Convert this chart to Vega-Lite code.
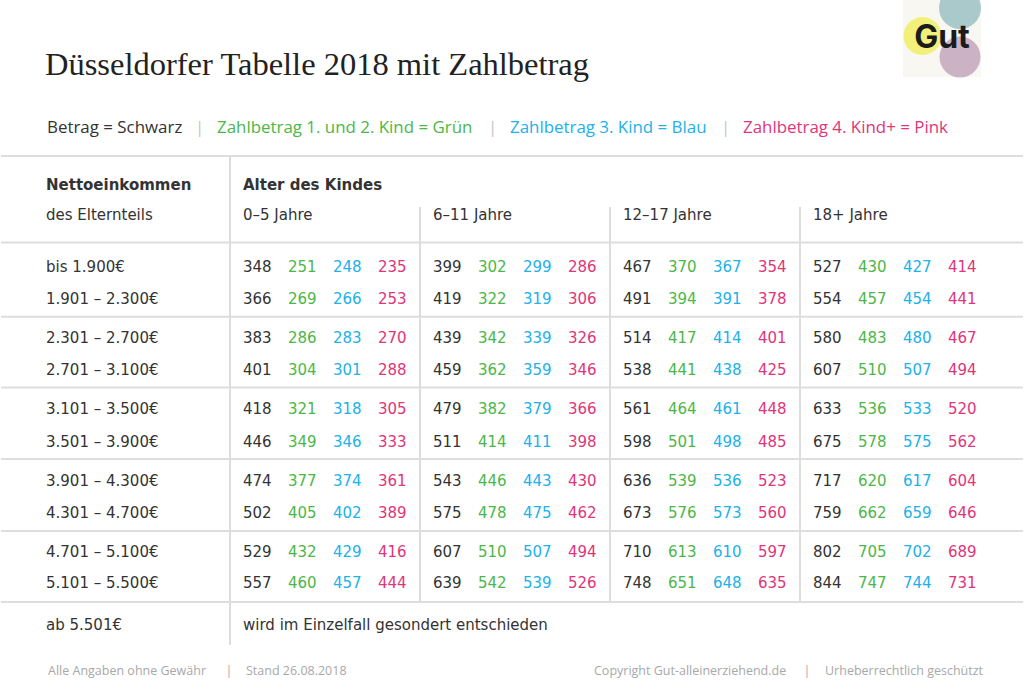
{
  "$schema": "https://vega.github.io/schema/vega-lite/v6.json",
  "width": 1024,
  "height": 699,
  "autosize": {"type": "fit", "contains": "padding"},
  "padding": 0,
  "background": "#ffffff",
  "config": {"view": {"stroke": null}, "axis": {"disable": true}, "legend": {"disable": true}},
  "resolve": {"scale": {"x": "independent", "y": "independent", "color": "independent", "xOffset": "independent", "size": "independent"}},
  "datasets": {
    "marke": [{"marke": "Gut"}],
    "logo": [
      {"teil": "türkis", "spalte": "rechts", "reihe": "oben"},
      {"teil": "malve", "spalte": "rechts", "reihe": "unten"},
      {"teil": "gelb", "spalte": "links", "reihe": "mitte"}
    ],
    "titel": [{"text": "Düsseldorfer Tabelle 2018 mit Zahlbetrag"}],
    "legende": [
      {"nr": 1, "text": "Betrag = Schwarz", "art": "betrag"},
      {"nr": 2, "text": "|", "art": "trenner"},
      {"nr": 3, "text": "Zahlbetrag 1. und 2. Kind = Grün", "art": "kind_1_2"},
      {"nr": 4, "text": "|", "art": "trenner"},
      {"nr": 5, "text": "Zahlbetrag 3. Kind = Blau", "art": "kind_3"},
      {"nr": 6, "text": "|", "art": "trenner"},
      {"nr": 7, "text": "Zahlbetrag 4. Kind+ = Pink", "art": "kind_4"}
    ],
    "fusszeile": [
      {"nr": 1, "text": "Alle Angaben ohne Gewähr"},
      {"nr": 2, "text": "|"},
      {"nr": 3, "text": "Stand 26.08.2018"},
      {"nr": 4, "text": "Copyright Gut-alleinerziehend.de"},
      {"nr": 5, "text": "|"},
      {"nr": 6, "text": "Urheberrechtlich geschützt"}
    ],
    "trennlinien_h": [{"zeile": -2}, {"zeile": 0.5}, {"zeile": 2.5}, {"zeile": 4.5}, {"zeile": 6.5}, {"zeile": 8.5}, {"zeile": 10.5}],
    "trennlinien_v": [
      {"alter": "0–5 Jahre", "von": -2, "bis": 11.5},
      {"alter": "6–11 Jahre", "von": -0.5, "bis": 10.5},
      {"alter": "12–17 Jahre", "von": -0.5, "bis": 10.5},
      {"alter": "18+ Jahre", "von": -0.5, "bis": 10.5}
    ],
    "spalte_links": [
      {"zeile": -1, "text": "Nettoeinkommen", "typ": "Kopf"},
      {"zeile": 0, "text": "des Elternteils", "typ": "Unterkopf"},
      {"zeile": 1, "text": "bis 1.900€", "typ": "Einkommen"},
      {"zeile": 2, "text": "1.901 – 2.300€", "typ": "Einkommen"},
      {"zeile": 3, "text": "2.301 – 2.700€", "typ": "Einkommen"},
      {"zeile": 4, "text": "2.701 – 3.100€", "typ": "Einkommen"},
      {"zeile": 5, "text": "3.101 – 3.500€", "typ": "Einkommen"},
      {"zeile": 6, "text": "3.501 – 3.900€", "typ": "Einkommen"},
      {"zeile": 7, "text": "3.901 – 4.300€", "typ": "Einkommen"},
      {"zeile": 8, "text": "4.301 – 4.700€", "typ": "Einkommen"},
      {"zeile": 9, "text": "4.701 – 5.100€", "typ": "Einkommen"},
      {"zeile": 10, "text": "5.101 – 5.500€", "typ": "Einkommen"},
      {"zeile": 11, "text": "ab 5.501€", "typ": "Einkommen"}
    ],
    "spalte_alter": [
      {"zeile": -1, "alter": "0–5 Jahre", "text": "Alter des Kindes", "typ": "Kopf"},
      {"zeile": 0, "alter": "0–5 Jahre", "text": "0–5 Jahre", "typ": "Unterkopf"},
      {"zeile": 0, "alter": "6–11 Jahre", "text": "6–11 Jahre", "typ": "Unterkopf"},
      {"zeile": 0, "alter": "12–17 Jahre", "text": "12–17 Jahre", "typ": "Unterkopf"},
      {"zeile": 0, "alter": "18+ Jahre", "text": "18+ Jahre", "typ": "Unterkopf"},
      {"zeile": 11, "alter": "0–5 Jahre", "text": "wird im Einzelfall gesondert entschieden", "typ": "Hinweis"}
    ],
    "tabelle": [
      {"gruppe": 1, "einkommen": "bis 1.900€", "alter": "0–5 Jahre", "betrag": 348, "kind_1_2": 251, "kind_3": 248, "kind_4": 235},
      {"gruppe": 1, "einkommen": "bis 1.900€", "alter": "6–11 Jahre", "betrag": 399, "kind_1_2": 302, "kind_3": 299, "kind_4": 286},
      {"gruppe": 1, "einkommen": "bis 1.900€", "alter": "12–17 Jahre", "betrag": 467, "kind_1_2": 370, "kind_3": 367, "kind_4": 354},
      {"gruppe": 1, "einkommen": "bis 1.900€", "alter": "18+ Jahre", "betrag": 527, "kind_1_2": 430, "kind_3": 427, "kind_4": 414},
      {"gruppe": 2, "einkommen": "1.901 – 2.300€", "alter": "0–5 Jahre", "betrag": 366, "kind_1_2": 269, "kind_3": 266, "kind_4": 253},
      {"gruppe": 2, "einkommen": "1.901 – 2.300€", "alter": "6–11 Jahre", "betrag": 419, "kind_1_2": 322, "kind_3": 319, "kind_4": 306},
      {"gruppe": 2, "einkommen": "1.901 – 2.300€", "alter": "12–17 Jahre", "betrag": 491, "kind_1_2": 394, "kind_3": 391, "kind_4": 378},
      {"gruppe": 2, "einkommen": "1.901 – 2.300€", "alter": "18+ Jahre", "betrag": 554, "kind_1_2": 457, "kind_3": 454, "kind_4": 441},
      {"gruppe": 3, "einkommen": "2.301 – 2.700€", "alter": "0–5 Jahre", "betrag": 383, "kind_1_2": 286, "kind_3": 283, "kind_4": 270},
      {"gruppe": 3, "einkommen": "2.301 – 2.700€", "alter": "6–11 Jahre", "betrag": 439, "kind_1_2": 342, "kind_3": 339, "kind_4": 326},
      {"gruppe": 3, "einkommen": "2.301 – 2.700€", "alter": "12–17 Jahre", "betrag": 514, "kind_1_2": 417, "kind_3": 414, "kind_4": 401},
      {"gruppe": 3, "einkommen": "2.301 – 2.700€", "alter": "18+ Jahre", "betrag": 580, "kind_1_2": 483, "kind_3": 480, "kind_4": 467},
      {"gruppe": 4, "einkommen": "2.701 – 3.100€", "alter": "0–5 Jahre", "betrag": 401, "kind_1_2": 304, "kind_3": 301, "kind_4": 288},
      {"gruppe": 4, "einkommen": "2.701 – 3.100€", "alter": "6–11 Jahre", "betrag": 459, "kind_1_2": 362, "kind_3": 359, "kind_4": 346},
      {"gruppe": 4, "einkommen": "2.701 – 3.100€", "alter": "12–17 Jahre", "betrag": 538, "kind_1_2": 441, "kind_3": 438, "kind_4": 425},
      {"gruppe": 4, "einkommen": "2.701 – 3.100€", "alter": "18+ Jahre", "betrag": 607, "kind_1_2": 510, "kind_3": 507, "kind_4": 494},
      {"gruppe": 5, "einkommen": "3.101 – 3.500€", "alter": "0–5 Jahre", "betrag": 418, "kind_1_2": 321, "kind_3": 318, "kind_4": 305},
      {"gruppe": 5, "einkommen": "3.101 – 3.500€", "alter": "6–11 Jahre", "betrag": 479, "kind_1_2": 382, "kind_3": 379, "kind_4": 366},
      {"gruppe": 5, "einkommen": "3.101 – 3.500€", "alter": "12–17 Jahre", "betrag": 561, "kind_1_2": 464, "kind_3": 461, "kind_4": 448},
      {"gruppe": 5, "einkommen": "3.101 – 3.500€", "alter": "18+ Jahre", "betrag": 633, "kind_1_2": 536, "kind_3": 533, "kind_4": 520},
      {"gruppe": 6, "einkommen": "3.501 – 3.900€", "alter": "0–5 Jahre", "betrag": 446, "kind_1_2": 349, "kind_3": 346, "kind_4": 333},
      {"gruppe": 6, "einkommen": "3.501 – 3.900€", "alter": "6–11 Jahre", "betrag": 511, "kind_1_2": 414, "kind_3": 411, "kind_4": 398},
      {"gruppe": 6, "einkommen": "3.501 – 3.900€", "alter": "12–17 Jahre", "betrag": 598, "kind_1_2": 501, "kind_3": 498, "kind_4": 485},
      {"gruppe": 6, "einkommen": "3.501 – 3.900€", "alter": "18+ Jahre", "betrag": 675, "kind_1_2": 578, "kind_3": 575, "kind_4": 562},
      {"gruppe": 7, "einkommen": "3.901 – 4.300€", "alter": "0–5 Jahre", "betrag": 474, "kind_1_2": 377, "kind_3": 374, "kind_4": 361},
      {"gruppe": 7, "einkommen": "3.901 – 4.300€", "alter": "6–11 Jahre", "betrag": 543, "kind_1_2": 446, "kind_3": 443, "kind_4": 430},
      {"gruppe": 7, "einkommen": "3.901 – 4.300€", "alter": "12–17 Jahre", "betrag": 636, "kind_1_2": 539, "kind_3": 536, "kind_4": 523},
      {"gruppe": 7, "einkommen": "3.901 – 4.300€", "alter": "18+ Jahre", "betrag": 717, "kind_1_2": 620, "kind_3": 617, "kind_4": 604},
      {"gruppe": 8, "einkommen": "4.301 – 4.700€", "alter": "0–5 Jahre", "betrag": 502, "kind_1_2": 405, "kind_3": 402, "kind_4": 389},
      {"gruppe": 8, "einkommen": "4.301 – 4.700€", "alter": "6–11 Jahre", "betrag": 575, "kind_1_2": 478, "kind_3": 475, "kind_4": 462},
      {"gruppe": 8, "einkommen": "4.301 – 4.700€", "alter": "12–17 Jahre", "betrag": 673, "kind_1_2": 576, "kind_3": 573, "kind_4": 560},
      {"gruppe": 8, "einkommen": "4.301 – 4.700€", "alter": "18+ Jahre", "betrag": 759, "kind_1_2": 662, "kind_3": 659, "kind_4": 646},
      {"gruppe": 9, "einkommen": "4.701 – 5.100€", "alter": "0–5 Jahre", "betrag": 529, "kind_1_2": 432, "kind_3": 429, "kind_4": 416},
      {"gruppe": 9, "einkommen": "4.701 – 5.100€", "alter": "6–11 Jahre", "betrag": 607, "kind_1_2": 510, "kind_3": 507, "kind_4": 494},
      {"gruppe": 9, "einkommen": "4.701 – 5.100€", "alter": "12–17 Jahre", "betrag": 710, "kind_1_2": 613, "kind_3": 610, "kind_4": 597},
      {"gruppe": 9, "einkommen": "4.701 – 5.100€", "alter": "18+ Jahre", "betrag": 802, "kind_1_2": 705, "kind_3": 702, "kind_4": 689},
      {"gruppe": 10, "einkommen": "5.101 – 5.500€", "alter": "0–5 Jahre", "betrag": 557, "kind_1_2": 460, "kind_3": 457, "kind_4": 444},
      {"gruppe": 10, "einkommen": "5.101 – 5.500€", "alter": "6–11 Jahre", "betrag": 639, "kind_1_2": 542, "kind_3": 539, "kind_4": 526},
      {"gruppe": 10, "einkommen": "5.101 – 5.500€", "alter": "12–17 Jahre", "betrag": 748, "kind_1_2": 651, "kind_3": 648, "kind_4": 635},
      {"gruppe": 10, "einkommen": "5.101 – 5.500€", "alter": "18+ Jahre", "betrag": 844, "kind_1_2": 747, "kind_3": 744, "kind_4": 731}
    ]
  },
  "layer": [
    {
      "data": {"name": "marke"},
      "mark": {"type": "rect", "color": "#f8f7f2"},
      "encoding": {
        "x": {"field": "marke", "type": "nominal", "scale": {"type": "band", "domain": ["Gut"], "range": [902, 980], "paddingInner": 0, "paddingOuter": 0}},
        "y": {"field": "marke", "type": "nominal", "scale": {"type": "band", "domain": ["Gut"], "range": [0, 77], "paddingInner": 0, "paddingOuter": 0}}
      }
    },
    {
      "data": {"name": "logo"},
      "transform": [{"filter": "datum.spalte === 'rechts'"}],
      "mark": {"type": "point", "shape": "circle", "filled": true, "opacity": 1, "strokeWidth": 0, "clip": true},
      "encoding": {
        "x": {"field": "spalte", "type": "nominal", "scale": {"type": "point", "domain": ["rechts"], "range": [959, 959]}},
        "y": {"field": "reihe", "type": "nominal", "scale": {"type": "point", "domain": ["oben", "unten"], "range": [8, 57], "padding": 0}},
        "color": {"field": "teil", "type": "nominal", "scale": {"domain": ["türkis", "malve"], "range": ["#a9c9cb", "#cbb2c5"]}},
        "size": {"field": "teil", "type": "ordinal", "scale": {"domain": ["türkis", "malve"], "range": [1764, 1681]}}
      }
    },
    {
      "data": {"name": "logo"},
      "transform": [{"filter": "datum.spalte === 'links'"}],
      "mark": {"type": "point", "shape": "circle", "filled": true, "opacity": 1, "strokeWidth": 0, "color": "#f2f07b", "size": 1444},
      "encoding": {
        "x": {"field": "spalte", "type": "nominal", "scale": {"type": "point", "domain": ["links"], "range": [921.5, 921.5]}},
        "y": {"field": "reihe", "type": "nominal", "scale": {"type": "point", "domain": ["mitte"], "range": [36, 36]}}
      }
    },
    {
      "data": {"name": "marke"},
      "mark": {"type": "text", "font": "Inter", "fontWeight": "bold", "fontSize": 32, "align": "center", "baseline": "alphabetic", "color": "#1b1b1b"},
      "encoding": {
        "text": {"field": "marke"},
        "x": {"field": "marke", "type": "nominal", "scale": {"type": "point", "domain": ["Gut"], "range": [941, 941]}},
        "y": {"field": "marke", "type": "nominal", "scale": {"type": "point", "domain": ["Gut"], "range": [48, 48]}}
      }
    },
    {
      "data": {"name": "titel"},
      "mark": {"type": "text", "font": "Liberation Serif", "fontSize": 32.5, "align": "left", "baseline": "alphabetic", "color": "#222222"},
      "encoding": {
        "text": {"field": "text"},
        "x": {"field": "text", "type": "nominal", "scale": {"type": "point", "range": [44, 44]}},
        "y": {"field": "text", "type": "nominal", "scale": {"type": "point", "range": [75, 75]}}
      }
    },
    {
      "data": {"name": "legende"},
      "mark": {"type": "text", "font": "Open Sans", "fontSize": 16.9, "align": "left", "baseline": "alphabetic"},
      "encoding": {
        "text": {"field": "text"},
        "x": {"field": "nr", "type": "quantitative", "scale": {"domain": [1, 2, 3, 4, 5, 6, 7], "range": [46, 194, 216, 487, 509, 720, 742], "nice": false, "zero": false}},
        "y": {"datum": "Legende", "type": "nominal", "scale": {"type": "point", "domain": ["Legende"], "range": [132.5, 132.5]}},
        "color": {"field": "art", "type": "nominal", "scale": {"domain": ["betrag", "kind_1_2", "kind_3", "kind_4", "trenner"], "range": ["#333333", "#4cb748", "#21b1eb", "#e0357a", "#c4c4c4"]}}
      }
    },
    {
      "data": {"name": "fusszeile"},
      "mark": {"type": "text", "font": "Open Sans", "fontSize": 12.5, "align": "left", "baseline": "alphabetic", "color": "#a8a8a8"},
      "encoding": {
        "text": {"field": "text"},
        "x": {"field": "nr", "type": "quantitative", "scale": {"domain": [1, 2, 3, 4, 5, 6], "range": [47, 224.5, 245, 593, 802.5, 824], "nice": false, "zero": false}},
        "y": {"datum": "Fußzeile", "type": "nominal", "scale": {"type": "point", "domain": ["Fußzeile"], "range": [674.5, 674.5]}}
      }
    },
    {
      "data": {"name": "trennlinien_h"},
      "mark": {"type": "rule", "color": "#dddddd", "strokeWidth": 2},
      "encoding": {
        "y": {"field": "zeile", "type": "quantitative", "scale": {"domain": [-2, -1, -0.5, 0, 0.5, 1, 2, 2.5, 3, 4, 4.5, 5, 6, 6.5, 7, 8, 8.5, 9, 10, 10.5, 11, 11.5], "range": [156, 190, 207, 219.5, 242.5, 271.7, 304, 316.7, 342.7, 375, 387.5, 414.3, 446.5, 459, 485.5, 517.8, 531, 557.3, 588.3, 602, 629.5, 645], "nice": false, "zero": false}}
      }
    },
    {
      "data": {"name": "trennlinien_v"},
      "mark": {"type": "rule", "color": "#dddddd", "strokeWidth": 2},
      "encoding": {
        "x": {"field": "alter", "type": "nominal", "bandPosition": 0, "scale": {"type": "band", "domain": ["0–5 Jahre", "6–11 Jahre", "12–17 Jahre", "18+ Jahre"], "range": [229, 989], "paddingInner": 0, "paddingOuter": 0}},
        "y": {"field": "von", "type": "quantitative", "scale": {"domain": [-2, -1, -0.5, 0, 0.5, 1, 2, 2.5, 3, 4, 4.5, 5, 6, 6.5, 7, 8, 8.5, 9, 10, 10.5, 11, 11.5], "range": [156, 190, 207, 219.5, 242.5, 271.7, 304, 316.7, 342.7, 375, 387.5, 414.3, 446.5, 459, 485.5, 517.8, 531, 557.3, 588.3, 602, 629.5, 645], "nice": false, "zero": false}},
        "y2": {"field": "bis"}
      }
    },
    {
      "data": {"name": "spalte_links"},
      "transform": [{"filter": "datum.typ === 'Kopf'"}],
      "mark": {"type": "text", "font": "DejaVu Sans", "fontWeight": "bold", "fontSize": 15, "align": "left", "baseline": "alphabetic", "color": "#333333"},
      "encoding": {
        "text": {"field": "text"},
        "x": {"datum": "Nettoeinkommen", "type": "nominal", "scale": {"type": "point", "domain": ["Nettoeinkommen"], "range": [45, 45]}},
        "y": {"field": "zeile", "type": "quantitative", "scale": {"domain": [-2, -1, -0.5, 0, 0.5, 1, 2, 2.5, 3, 4, 4.5, 5, 6, 6.5, 7, 8, 8.5, 9, 10, 10.5, 11, 11.5], "range": [156, 190, 207, 219.5, 242.5, 271.7, 304, 316.7, 342.7, 375, 387.5, 414.3, 446.5, 459, 485.5, 517.8, 531, 557.3, 588.3, 602, 629.5, 645], "nice": false, "zero": false}}
      }
    },
    {
      "data": {"name": "spalte_links"},
      "transform": [{"filter": "datum.typ !== 'Kopf'"}],
      "mark": {"type": "text", "font": "DejaVu Sans", "fontSize": 15, "align": "left", "baseline": "alphabetic", "color": "#333333"},
      "encoding": {
        "text": {"field": "text"},
        "x": {"datum": "Nettoeinkommen", "type": "nominal", "scale": {"type": "point", "domain": ["Nettoeinkommen"], "range": [45, 45]}},
        "y": {"field": "zeile", "type": "quantitative", "scale": {"domain": [-2, -1, -0.5, 0, 0.5, 1, 2, 2.5, 3, 4, 4.5, 5, 6, 6.5, 7, 8, 8.5, 9, 10, 10.5, 11, 11.5], "range": [156, 190, 207, 219.5, 242.5, 271.7, 304, 316.7, 342.7, 375, 387.5, 414.3, 446.5, 459, 485.5, 517.8, 531, 557.3, 588.3, 602, 629.5, 645], "nice": false, "zero": false}}
      }
    },
    {
      "data": {"name": "spalte_alter"},
      "transform": [{"filter": "datum.typ === 'Kopf'"}],
      "mark": {"type": "text", "font": "DejaVu Sans", "fontWeight": "bold", "fontSize": 15, "align": "left", "baseline": "alphabetic", "color": "#333333", "dx": 13},
      "encoding": {
        "text": {"field": "text"},
        "x": {"field": "alter", "type": "nominal", "bandPosition": 0, "scale": {"type": "band", "domain": ["0–5 Jahre", "6–11 Jahre", "12–17 Jahre", "18+ Jahre"], "range": [229, 989], "paddingInner": 0, "paddingOuter": 0}},
        "y": {"field": "zeile", "type": "quantitative", "scale": {"domain": [-2, -1, -0.5, 0, 0.5, 1, 2, 2.5, 3, 4, 4.5, 5, 6, 6.5, 7, 8, 8.5, 9, 10, 10.5, 11, 11.5], "range": [156, 190, 207, 219.5, 242.5, 271.7, 304, 316.7, 342.7, 375, 387.5, 414.3, 446.5, 459, 485.5, 517.8, 531, 557.3, 588.3, 602, 629.5, 645], "nice": false, "zero": false}}
      }
    },
    {
      "data": {"name": "spalte_alter"},
      "transform": [{"filter": "datum.typ !== 'Kopf'"}],
      "mark": {"type": "text", "font": "DejaVu Sans", "fontSize": 15, "align": "left", "baseline": "alphabetic", "color": "#333333", "dx": 13},
      "encoding": {
        "text": {"field": "text"},
        "x": {"field": "alter", "type": "nominal", "bandPosition": 0, "scale": {"type": "band", "domain": ["0–5 Jahre", "6–11 Jahre", "12–17 Jahre", "18+ Jahre"], "range": [229, 989], "paddingInner": 0, "paddingOuter": 0}},
        "y": {"field": "zeile", "type": "quantitative", "scale": {"domain": [-2, -1, -0.5, 0, 0.5, 1, 2, 2.5, 3, 4, 4.5, 5, 6, 6.5, 7, 8, 8.5, 9, 10, 10.5, 11, 11.5], "range": [156, 190, 207, 219.5, 242.5, 271.7, 304, 316.7, 342.7, 375, 387.5, 414.3, 446.5, 459, 485.5, 517.8, 531, 557.3, 588.3, 602, 629.5, 645], "nice": false, "zero": false}}
      }
    },
    {
      "data": {"name": "tabelle"},
      "transform": [{"fold": ["betrag", "kind_1_2", "kind_3", "kind_4"], "as": ["art", "wert"]}],
      "mark": {"type": "text", "font": "DejaVu Sans", "fontSize": 15, "align": "left", "baseline": "alphabetic"},
      "encoding": {
        "text": {"field": "wert", "type": "quantitative", "format": "d"},
        "x": {"field": "alter", "type": "nominal", "scale": {"type": "band", "domain": ["0–5 Jahre", "6–11 Jahre", "12–17 Jahre", "18+ Jahre"], "range": [229, 989], "paddingInner": 0, "paddingOuter": 0}},
        "xOffset": {"field": "art", "type": "nominal", "scale": {"type": "band", "domain": ["betrag", "kind_1_2", "kind_3", "kind_4"], "range": [-9.5, 170.5], "paddingInner": 0, "paddingOuter": 0}},
        "y": {"field": "gruppe", "type": "quantitative", "scale": {"domain": [-2, -1, -0.5, 0, 0.5, 1, 2, 2.5, 3, 4, 4.5, 5, 6, 6.5, 7, 8, 8.5, 9, 10, 10.5, 11, 11.5], "range": [156, 190, 207, 219.5, 242.5, 271.7, 304, 316.7, 342.7, 375, 387.5, 414.3, 446.5, 459, 485.5, 517.8, 531, 557.3, 588.3, 602, 629.5, 645], "nice": false, "zero": false}},
        "color": {"field": "art", "type": "nominal", "scale": {"domain": ["betrag", "kind_1_2", "kind_3", "kind_4"], "range": ["#333333", "#4cb748", "#21b1eb", "#e0357a"]}}
      }
    }
  ]
}
